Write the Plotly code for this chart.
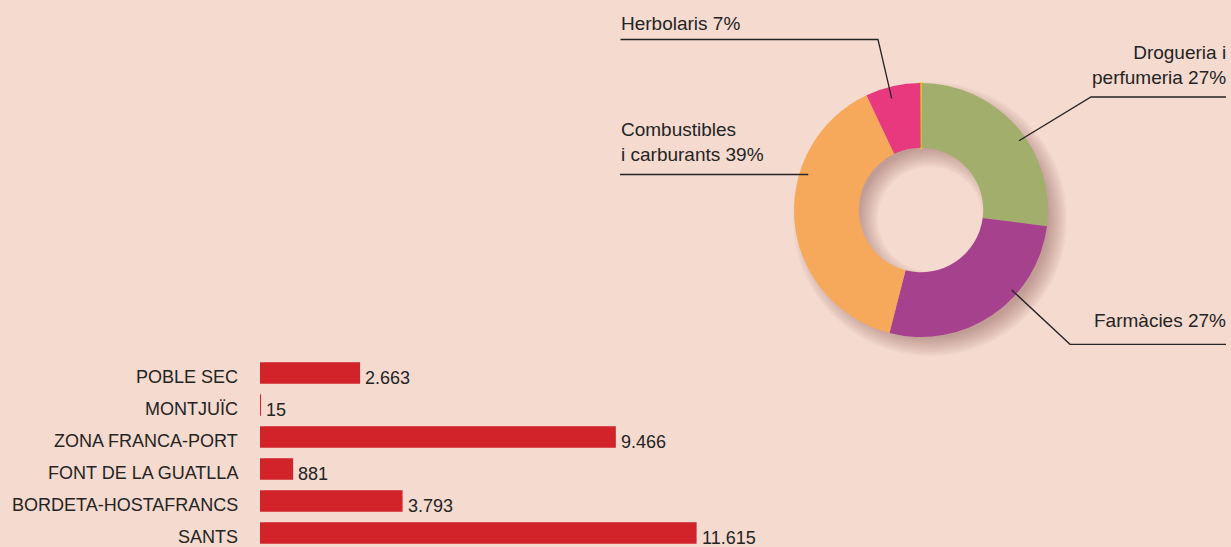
import plotly.graph_objects as go

W, H = 1231, 547
BG = "#F5DACF"
TXT = "#242424"

# ---- data ----
districts = ["POBLE SEC", "MONTJUÏC", "ZONA FRANCA-PORT", "FONT DE LA GUATLLA",
             "BORDETA-HOSTAFRANCS", "SANTS"]
establishments = [2663, 15, 9466, 881, 3793, 11615]

shop_types = ["", "Drogueria i perfumeria", "Farmàcies", "Combustibles i carburants", "Herbolaris"]
shop_share = [0.15, 27, 27, 39, 7]
shop_colors = ["#F7D117", "#A2AF6C", "#A6418D", "#F6A95B", "#E8397F"]

label_texts = ["Herbolaris 7%", "Drogueria i<br>perfumeria 27%",
               "Combustibles<br>i carburants 39%", "Farmàcies 27%"]


def px(x):
    return x / W


def py(y):
    return 1 - y / H


fig = go.Figure()

# ---- bar chart ----
fig.add_trace(go.Bar(
    x=establishments, y=districts, orientation="h",
    marker=dict(color="#D2232A", line=dict(width=0)),
    width=0.67, hoverinfo="skip", showlegend=False,
    xaxis="x", yaxis="y",
))

FONT = "Liberation Sans, Arial, sans-serif"
annotations = []
for d, v in zip(districts, establishments):
    annotations.append(dict(
        x=0, y=d, xref="x", yref="y", text=d, showarrow=False,
        xanchor="right", yanchor="middle", xshift=-20, yshift=-4,
        font=dict(family=FONT, size=18, color=TXT),
    ))
    annotations.append(dict(
        x=v, y=d, xref="x", yref="y", text=f"{v:,}".replace(",", "."),
        showarrow=False, xanchor="left", yanchor="middle", xshift=3, yshift=-5,
        font=dict(family=FONT, size=18, color=TXT),
    ))

# ---- donut ----
cx, cy, r = 921, 210, 127
hole = 0.49
r_in = r * hole


def dom(dx=0, dy=0, rr=r):
    return dict(x=[px(cx - rr + dx), px(cx + rr + dx)],
                y=[py(cy + rr + dy), py(cy - rr + dy)])


# soft drop shadow: offset rings with growing spread to fake a blur
off = 9
for s in range(-8, 11, 2):
    ro, ri = r + s, max(r_in - s, 1)
    fig.add_trace(go.Pie(
        values=[1], labels=["s"], hole=ri / ro, domain=dom(off, off, ro),
        marker=dict(colors=["rgba(80,40,30,0.034)"], line=dict(width=0)),
        textinfo="none", hoverinfo="skip", showlegend=False, sort=False,
    ))

fig.add_trace(go.Pie(
    values=shop_share, labels=shop_types, hole=hole, domain=dom(),
    sort=False, direction="clockwise", rotation=-0.27,
    marker=dict(colors=shop_colors,
                line=dict(color=["#F7D117", BG, BG, BG, BG], width=[2.2, 0, 0, 0, 0])),
    textinfo="none", hoverinfo="label+percent", showlegend=False,
))

lab_font = dict(family=FONT, size=19, color=TXT)
annotations += [
    dict(x=px(619), y=py(24), xref="paper", yref="paper", text=label_texts[0],
         showarrow=False, xanchor="left", yanchor="middle", align="left", font=lab_font),
    dict(x=px(1228), y=py(64.5), xref="paper", yref="paper", text=label_texts[1],
         showarrow=False, xanchor="right", yanchor="middle", align="right", font=lab_font),
    dict(x=px(619), y=py(142), xref="paper", yref="paper", text=label_texts[2],
         showarrow=False, xanchor="left", yanchor="middle", align="left", font=lab_font),
    dict(x=px(1228), y=py(320.5), xref="paper", yref="paper", text=label_texts[3],
         showarrow=False, xanchor="right", yanchor="middle", align="right", font=lab_font),
]

line_style = dict(color=TXT, width=1.3)
leaders = [
    [(620.5, 39.5), (878, 39.5), (891.7, 98.3)],
    [(1226, 97), (1091, 97), (1019, 140.7)],
    [(620, 174.5), (808.3, 174.5)],
    [(1226, 344.3), (1070, 344.3), (1011.7, 290)],
]
shapes = []
for pts in leaders:
    path = "M " + " L ".join(f"{px(x):.5f},{py(y):.5f}" for x, y in pts)
    shapes.append(dict(type="path", path=path, xref="paper", yref="paper",
                       line=line_style, layer="above"))

bar_px_per_unit = 0.03759
x0_px, x1_px = 260, 860

fig.update_layout(
    width=W, height=H,
    margin=dict(l=0, r=0, t=0, b=0),
    paper_bgcolor=BG, plot_bgcolor="rgba(0,0,0,0)",
    xaxis=dict(domain=[px(x0_px), px(x1_px)],
               range=[0, (x1_px - x0_px) / bar_px_per_unit],
               visible=False, fixedrange=True),
    yaxis=dict(domain=[0, 190 / H], range=[5.4375, -0.5], type="category",
               categoryorder="array", categoryarray=districts,
               showticklabels=False, showgrid=False, zeroline=False,
               ticks="", showline=False, fixedrange=True),
    annotations=annotations,
    shapes=shapes,
    bargap=0.33,
)

fig.write_html(
    "out.html",
    config={"displayModeBar": False},
    post_script="document.body.style.margin='0';document.body.style.overflow='hidden';"
                "document.body.style.background='" + BG + "';",
)
